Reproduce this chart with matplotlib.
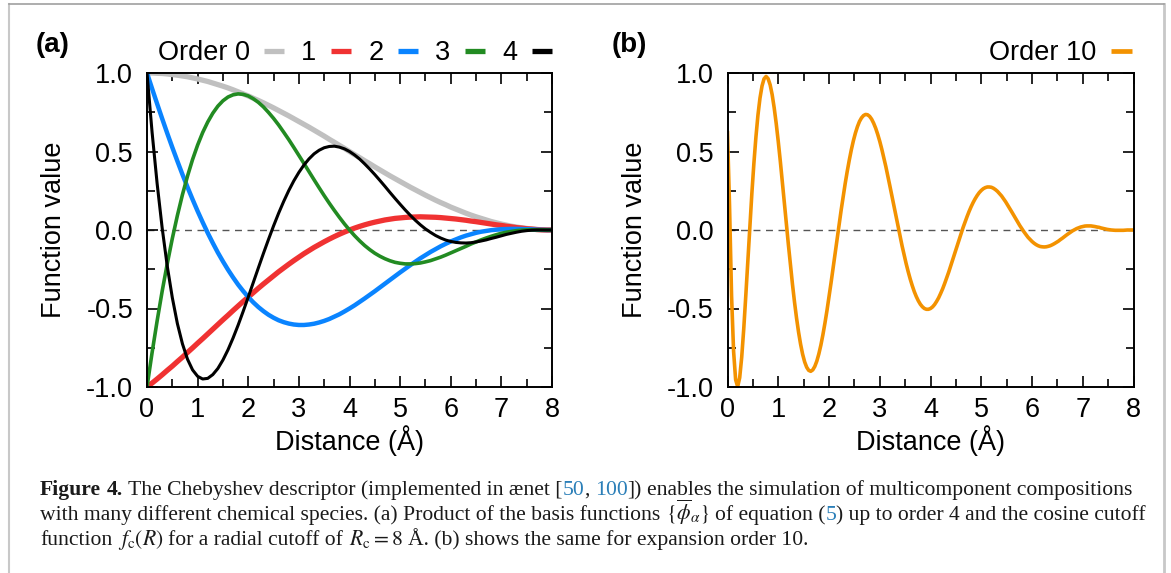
import numpy as np
import matplotlib
matplotlib.use("Agg")
import matplotlib.pyplot as plt
from matplotlib.lines import Line2D

plt.rcParams['font.family'] = ['Liberation Sans', 'DejaVu Sans']
plt.rcParams['axes.unicode_minus'] = False
plt.rcParams['mathtext.fontset'] = 'stix'

# ---------------- data ----------------
distance_a = np.linspace(0, 8, 81)      # 0.1 A sampling, panel (a)
distance_b = np.linspace(0, 8, 201)     # 0.04 A sampling, panel (b)

order0 = [1.000, 1.000, 0.998, 0.997, 0.994, 0.990, 0.986, 0.981, 0.976, 0.969,
          0.962, 0.954, 0.946, 0.936, 0.926, 0.916, 0.905, 0.893, 0.880, 0.867,
          0.854, 0.839, 0.825, 0.810, 0.794, 0.778, 0.761, 0.744, 0.727, 0.709,
          0.691, 0.673, 0.655, 0.636, 0.617, 0.598, 0.578, 0.559, 0.539, 0.520,
          0.500, 0.480, 0.461, 0.441, 0.422, 0.402, 0.383, 0.364, 0.345, 0.327,
          0.309, 0.291, 0.273, 0.256, 0.239, 0.222, 0.206, 0.190, 0.175, 0.161,
          0.146, 0.133, 0.120, 0.107, 0.095, 0.084, 0.074, 0.064, 0.054, 0.046,
          0.038, 0.031, 0.024, 0.019, 0.014, 0.010, 0.006, 0.003, 0.002, 0.000,
          0.000]
order1 = [-1.000, -0.975, -0.949, -0.922, -0.894, -0.867, -0.838, -0.810, -0.780, -0.751,
          -0.721, -0.692, -0.662, -0.632, -0.602, -0.572, -0.543, -0.513, -0.484, -0.455,
          -0.427, -0.399, -0.371, -0.344, -0.318, -0.292, -0.266, -0.242, -0.218, -0.195,
          -0.173, -0.151, -0.131, -0.111, -0.093, -0.075, -0.058, -0.042, -0.027, -0.013,
          0.000, 0.012, 0.023, 0.033, 0.042, 0.050, 0.057, 0.064, 0.069, 0.074,
          0.077, 0.080, 0.082, 0.083, 0.084, 0.083, 0.082, 0.081, 0.079, 0.076,
          0.073, 0.070, 0.066, 0.062, 0.057, 0.053, 0.048, 0.043, 0.038, 0.033,
          0.029, 0.024, 0.020, 0.015, 0.012, 0.008, 0.006, 0.003, 0.001, 0.000,
          0.000]
order2 = [1.000, 0.901, 0.804, 0.709, 0.616, 0.526, 0.439, 0.354, 0.273, 0.195,
          0.120, 0.049, -0.019, -0.083, -0.144, -0.200, -0.253, -0.302, -0.348, -0.389,
          -0.427, -0.461, -0.491, -0.517, -0.540, -0.559, -0.575, -0.587, -0.596, -0.602,
          -0.605, -0.605, -0.602, -0.597, -0.589, -0.579, -0.567, -0.552, -0.537, -0.519,
          -0.500, -0.480, -0.458, -0.436, -0.413, -0.390, -0.366, -0.342, -0.318, -0.294,
          -0.270, -0.247, -0.224, -0.202, -0.180, -0.160, -0.140, -0.122, -0.104, -0.088,
          -0.073, -0.060, -0.047, -0.036, -0.027, -0.018, -0.011, -0.006, -0.001, 0.002,
          0.005, 0.006, 0.007, 0.007, 0.006, 0.005, 0.004, 0.002, 0.001, 0.000,
          0.000]
order3 = [-1.000, -0.782, -0.579, -0.389, -0.215, -0.054, 0.092, 0.225, 0.343, 0.449,
          0.541, 0.621, 0.688, 0.744, 0.789, 0.823, 0.847, 0.861, 0.867, 0.864,
          0.854, 0.836, 0.813, 0.784, 0.749, 0.711, 0.669, 0.623, 0.576, 0.526,
          0.475, 0.424, 0.372, 0.320, 0.269, 0.219, 0.171, 0.125, 0.081, 0.039,
          0.000, -0.036, -0.069, -0.099, -0.125, -0.148, -0.167, -0.183, -0.196, -0.206,
          -0.212, -0.216, -0.216, -0.214, -0.210, -0.203, -0.195, -0.184, -0.173, -0.160,
          -0.146, -0.132, -0.118, -0.104, -0.089, -0.076, -0.063, -0.051, -0.040, -0.030,
          -0.021, -0.014, -0.009, -0.004, -0.001, 0.001, 0.001, 0.001, 0.001, 0.000,
          0.000]
order4 = [1.000, 0.624, 0.296, 0.012, -0.230, -0.431, -0.596, -0.725, -0.823, -0.891,
          -0.932, -0.949, -0.945, -0.921, -0.882, -0.828, -0.763, -0.688, -0.606, -0.518,
          -0.427, -0.334, -0.241, -0.149, -0.060, 0.026, 0.107, 0.182, 0.251, 0.313,
          0.367, 0.414, 0.453, 0.485, 0.508, 0.524, 0.532, 0.534, 0.528, 0.517,
          0.500, 0.478, 0.452, 0.421, 0.388, 0.353, 0.316, 0.278, 0.239, 0.201,
          0.164, 0.128, 0.094, 0.062, 0.033, 0.007, -0.015, -0.035, -0.051, -0.064,
          -0.073, -0.079, -0.082, -0.083, -0.081, -0.076, -0.070, -0.063, -0.054, -0.046,
          -0.037, -0.028, -0.021, -0.014, -0.008, -0.004, -0.001, 0.000, 0.000, 0.000,
          0.000]
order10 = [0.620, 0.155, -0.419, -0.773, -0.953, -0.998, -0.941, -0.810, -0.630, -0.421,
           -0.200, 0.022, 0.233, 0.425, 0.592, 0.732, 0.840, 0.917, 0.963, 0.978,
           0.964, 0.925, 0.862, 0.778, 0.678, 0.564, 0.440, 0.309, 0.174, 0.039,
           -0.094, -0.223, -0.345, -0.458, -0.560, -0.650, -0.727, -0.791, -0.840, -0.874,
           -0.894, -0.900, -0.891, -0.869, -0.835, -0.789, -0.733, -0.667, -0.593, -0.513,
           -0.427, -0.337, -0.244, -0.150, -0.056, 0.037, 0.128, 0.215, 0.298, 0.375,
           0.446, 0.511, 0.568, 0.617, 0.658, 0.691, 0.714, 0.729, 0.736, 0.734,
           0.724, 0.706, 0.680, 0.648, 0.609, 0.565, 0.515, 0.461, 0.404, 0.343,
           0.280, 0.216, 0.151, 0.087, 0.023, -0.040, -0.101, -0.159, -0.214, -0.265,
           -0.312, -0.354, -0.392, -0.424, -0.451, -0.473, -0.489, -0.500, -0.505, -0.505,
           -0.500, -0.490, -0.475, -0.455, -0.432, -0.404, -0.374, -0.340, -0.304, -0.267,
           -0.227, -0.187, -0.146, -0.105, -0.065, -0.025, 0.014, 0.050, 0.085, 0.118,
           0.148, 0.175, 0.199, 0.220, 0.238, 0.252, 0.263, 0.270, 0.274, 0.274,
           0.272, 0.266, 0.257, 0.246, 0.232, 0.217, 0.199, 0.180, 0.159, 0.138,
           0.116, 0.094, 0.071, 0.050, 0.028, 0.008, -0.011, -0.029, -0.046, -0.060,
           -0.073, -0.084, -0.093, -0.100, -0.105, -0.107, -0.108, -0.107, -0.104, -0.100,
           -0.094, -0.087, -0.079, -0.071, -0.061, -0.052, -0.042, -0.032, -0.023, -0.014,
           -0.005, 0.002, 0.009, 0.014, 0.019, 0.022, 0.025, 0.026, 0.026, 0.026,
           0.024, 0.022, 0.019, 0.017, 0.013, 0.010, 0.007, 0.004, 0.002, 0.000,
           -0.001, -0.002, -0.002, -0.002, -0.002, -0.002, -0.001, -0.000, -0.000, 0.000,
           0.000]

legend_a = ['Order 0', '1', '2', '3', '4']
legend_b = ['Order 10']
xticks = list(range(9))
yticks = [-1.0, -0.5, 0.0, 0.5, 1.0]
ytick_labels = ['-1.0', '-0.5', '0.0', '0.5', '1.0']

# ---------------- figure ----------------
W, H = 1171, 573
fig = plt.figure(figsize=(W / 100, H / 100), dpi=100)
axa = fig.add_axes([147 / W, 1 - 387 / H, 405 / W, 314 / H])
axb = fig.add_axes([727.5 / W, 1 - 387 / H, 406 / W, 314 / H])

series_a = [order0, order1, order2, order3, order4]
cols = ['#c0c0c0', '#f03232', '#0a84ff', '#228b22', '#000000']
lws = [3.8, 3.8, 3.2, 2.6, 2.2]
for ys, c, lw in zip(series_a, cols, lws):
    axa.plot(distance_a, ys, color=c, lw=lw, solid_capstyle='butt')
ORANGE = '#f39200'
axb.plot(distance_b, order10, color=ORANGE, lw=2.6)

FS = 19.5
for ax in (axa, axb):
    ax.axhline(0, color='#555555', lw=1.0, ls=(0, (5, 4)), zorder=0)
    ax.set_xlim(0, 8)
    ax.set_ylim(-1, 1)
    ax.set_xticks(xticks)
    ax.set_xticks(np.arange(0.5, 8, 1), minor=True)
    ax.set_yticks(yticks)
    ax.set_yticklabels(ytick_labels)
    ax.set_yticks([-0.75, -0.25, 0.25, 0.75], minor=True)
    ax.tick_params(which='both', direction='in', top=True, right=True, width=1.2, labelsize=FS)
    ax.tick_params(which='major', length=8)
    ax.tick_params(which='minor', length=5.5)
    ax.tick_params(axis='y', pad=10)
    ax.tick_params(axis='x', pad=7)
    for s in ax.spines.values():
        s.set_linewidth(1.4)
    ax.set_xlabel('Distance (Å)', fontsize=FS, labelpad=2)
    ax.set_ylabel('Function value', fontsize=FS, labelpad=13.5)

hs = [Line2D([], [], color=c, lw=3.8, solid_capstyle='butt') for c in cols]
axa.legend(hs, legend_a, ncol=5, markerfirst=False, frameon=False,
           loc='center right', bbox_to_anchor=(1.0, 1 + 20 / 314), borderpad=0, borderaxespad=0,
           fontsize=FS, handlelength=0.74, handletextpad=0.55, columnspacing=0.62)
hb = [Line2D([], [], color=ORANGE, lw=3.4, solid_capstyle='butt')]
axb.legend(hb, legend_b, markerfirst=False, frameon=False,
           loc='center right', bbox_to_anchor=(1.0 - 2 / 406, 1 + 20 / 314), borderpad=0, borderaxespad=0,
           fontsize=FS, handlelength=0.74, handletextpad=0.55)
fig.text(36 / W, 1 - 45 / H, '(a)', fontsize=20, fontweight='bold', va='center', ha='left')
fig.text(612 / W, 1 - 45 / H, '(b)', fontsize=20, fontweight='bold', va='center', ha='left')

# page border
fig.add_artist(Line2D([9 / W, 9 / W], [0, 1 - 4 / H], color='#c8c8c8', lw=1.5))
fig.add_artist(Line2D([1164 / W, 1164 / W], [0, 1 - 4 / H], color='#c8c8c8', lw=2.0))
fig.add_artist(Line2D([9 / W, 1164 / W], [1 - 4 / H, 1 - 4 / H], color='#a0a0a0', lw=1.2))

# ---------------- caption ----------------
BLUE = '#2b7fb8'
TXT = '#1a1a1a'
serif = ['Liberation Serif', 'DejaVu Serif']
caption_lines = [
    [('Figure', 'b'), ' ', ('4.', 'b'), ' ', ('The Chebyshev descriptor (implemented in ænet [', 'n'),
     ('50', 'l'), (',', 'n'), ' ', ('100', 'l'), ('])', 'n'), ' ',
     ('enables the simulation of multicomponent compositions', 'n')],
    [('with many different chemical species. (a) Product of the basis functions', 'n'), ' ',
     (r'$\{\overline{\phi}_{\alpha}\}$', 'n'), ' ', ('of equation (', 'n'), ('5', 'l'),
     (') up to order 4 and the cosine cutoff', 'n')],
    [('function', 'n'), ' ', (r'$f_{\mathrm{c}}(R)$', 'n'), ' ', ('for a radial cutoff of', 'n'), ' ',
     (r'$R_{\mathrm{c}}=8$', 'n'), ' ', ('Å. (b) shows the same for expansion order 10.', 'n')],
]
renderer = fig.canvas.get_renderer()


def draw_caption(size, keep=True):
    arts = []
    t1 = fig.text(0, 0, 'n n', fontsize=size, family=serif)
    t2 = fig.text(0, 0, 'nn', fontsize=size, family=serif)
    sp = t1.get_window_extent(renderer).width - t2.get_window_extent(renderer).width
    t1.remove()
    t2.remove()
    widths = []
    for pieces, yb in zip(caption_lines, [495, 520, 545]):
        xx = 40.0
        for p in pieces:
            if p == ' ':
                xx += sp
                continue
            s, kind = p
            t = fig.text(xx / W, 1 - yb / H, s, fontsize=size, family=serif, va='baseline', ha='left',
                         color=BLUE if kind == 'l' else TXT,
                         fontweight='bold' if kind == 'b' else 'normal')
            xx += t.get_window_extent(renderer).width
            arts.append(t)
        widths.append(xx - 40)
    if not keep:
        for a in arts:
            a.remove()
    return widths


w0 = draw_caption(14, keep=False)
draw_caption(14 * 1100 / w0[0])

fig.savefig('out.png', dpi=100)
